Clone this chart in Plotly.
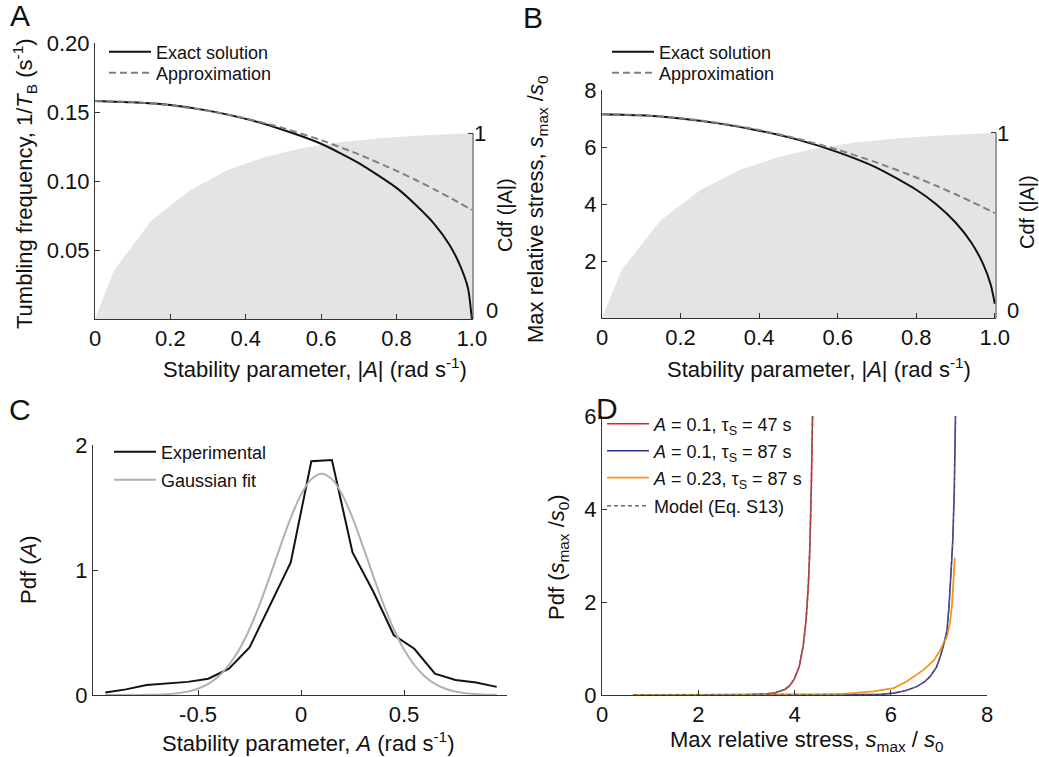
import plotly.graph_objects as go

W, H = 1039, 757
def px(x):
    return x / W
def py(y):
    return 1 - y / H

FONT = "Liberation Sans, Arial, sans-serif"

# ---------------- data ----------------
# Panels A and B : stability parameter |A|
abs_A = [0, 0.1, 0.2, 0.3, 0.4, 0.5, 0.6, 0.7, 0.8, 0.85, 0.9, 0.94, 0.97, 0.99, 1.0]
tumble_exact = [0.158, 0.157, 0.155, 0.151, 0.145, 0.137, 0.127, 0.113, 0.095, 0.083, 0.069, 0.054, 0.038, 0.022, 0.0]
tumble_approx = [0.158, 0.1572, 0.1548, 0.1509, 0.1454, 0.1383, 0.1296, 0.1193, 0.1074, 0.1009, 0.094, 0.0882, 0.0837, 0.0806, 0.079]
stress_exact = [7.15, 7.11, 7.0, 6.82, 6.57, 6.25, 5.82, 5.27, 4.5, 4.0, 3.35, 2.65, 1.9, 1.15, 0.5]
stress_approx = [7.15, 7.115, 7.011, 6.838, 6.595, 6.283, 5.902, 5.451, 4.931, 4.644, 4.341, 4.086, 3.887, 3.751, 3.683]

cdf_x = [0, 0.05, 0.15, 0.25, 0.35, 0.45, 0.55, 0.65, 0.75, 0.85, 0.95, 1.0]
cdf_y = [0, 0.26, 0.53, 0.69, 0.80, 0.87, 0.92, 0.95, 0.97, 0.985, 0.995, 1.0]

# Panel C : pdf of A
pdfA_x = [-0.95, -0.85, -0.75, -0.65, -0.55, -0.45, -0.35, -0.25, -0.15, -0.05,
          0.05, 0.15, 0.25, 0.35, 0.45, 0.55, 0.65, 0.75, 0.85, 0.95]
pdfA_exp = [0.02, 0.045, 0.08, 0.095, 0.105, 0.13, 0.21, 0.38, 0.72, 1.06,
            1.87, 1.88, 1.14, 0.83, 0.48, 0.37, 0.17, 0.12, 0.10, 0.065]
gauss_x = [-0.95, -0.9, -0.85, -0.8, -0.75, -0.7, -0.65, -0.6, -0.55, -0.5, -0.45, -0.4,
           -0.35, -0.3, -0.25, -0.2, -0.15, -0.1, -0.05, 0.0, 0.05, 0.1, 0.15, 0.2,
           0.25, 0.3, 0.35, 0.4, 0.45, 0.5, 0.55, 0.6, 0.65, 0.7, 0.75, 0.8, 0.85, 0.9, 0.95]
gauss_y = [0.0, 0.0, 0.0002, 0.0005, 0.0013, 0.003, 0.007, 0.014, 0.027, 0.051, 0.089, 0.150,
           0.240, 0.364, 0.528, 0.728, 0.955, 1.192, 1.417, 1.603, 1.727, 1.77, 1.727, 1.603,
           1.417, 1.192, 0.955, 0.728, 0.528, 0.364, 0.240, 0.150, 0.089, 0.051, 0.027, 0.014,
           0.007, 0.003, 0.0013]

# Panel D : pdf of max relative stress
red_x = [0.65, 1.5, 2.5, 3.0, 3.4, 3.6, 3.8, 3.9, 4.0, 4.1, 4.18, 4.24, 4.29, 4.32, 4.35, 4.375]
red_y = [0, 0, 0, 0.005, 0.02, 0.05, 0.12, 0.2, 0.35, 0.62, 1.05, 1.6, 2.4, 3.2, 4.5, 6.0]
blue_x = [0.65, 2, 4, 5, 5.5, 5.8, 6.06, 6.3, 6.54, 6.7, 6.82, 6.95, 7.03, 7.1, 7.17, 7.21, 7.25, 7.29, 7.32, 7.345]
blue_y = [0, 0, 0, 0, 0.003, 0.015, 0.04, 0.09, 0.18, 0.28, 0.40, 0.6, 0.83, 1.08, 1.40, 1.9, 2.6, 3.35, 4.4, 6.0]
orange_x = [0.65, 2, 3, 4, 4.5, 4.95, 5.3, 5.64, 6.06, 6.33, 6.68, 6.9, 7.03, 7.17, 7.23, 7.27, 7.3, 7.33]
orange_y = [0, 0, 0, 0.002, 0.008, 0.02, 0.05, 0.08, 0.15, 0.29, 0.54, 0.75, 0.97, 1.26, 1.55, 1.91, 2.4, 2.95]

absA_ticks = [0, 0.2, 0.4, 0.6, 0.8, 1.0]
absA_labels = ["0", "0.2", "0.4", "0.6", "0.8", "1.0"]

# ---------------- styles ----------------
BLACK = "#111111"
DASHGRAY = "#808080"
FILLGRAY = "#e3e4e4"
AXCOL = "#333333"

fig = go.Figure()

# Panel A
fig.add_trace(go.Scatter(x=cdf_x, y=cdf_y, xaxis="x", yaxis="y", mode="lines", fill="tozeroy",
                         fillcolor=FILLGRAY, line=dict(width=0, color=FILLGRAY), showlegend=False,
                         hoverinfo="skip"))
fig.add_trace(go.Scatter(x=abs_A, y=tumble_exact, xaxis="x", yaxis="y2", mode="lines",
                         line=dict(color=BLACK, width=2, shape="spline", smoothing=0.6),
                         name="Exact solution", legend="legend"))
fig.add_trace(go.Scatter(x=abs_A, y=tumble_approx, xaxis="x", yaxis="y2", mode="lines",
                         line=dict(color=DASHGRAY, width=2, dash="7px,4px", shape="spline", smoothing=0.6),
                         name="Approximation", legend="legend2"))

# Panel B
fig.add_trace(go.Scatter(x=cdf_x, y=cdf_y, xaxis="x2", yaxis="y3", mode="lines", fill="tozeroy",
                         fillcolor=FILLGRAY, line=dict(width=0, color=FILLGRAY), showlegend=False,
                         hoverinfo="skip"))
fig.add_trace(go.Scatter(x=abs_A, y=stress_exact, xaxis="x2", yaxis="y4", mode="lines",
                         line=dict(color=BLACK, width=2, shape="spline", smoothing=0.6),
                         name="Exact solution", legend="legend3"))
fig.add_trace(go.Scatter(x=abs_A, y=stress_approx, xaxis="x2", yaxis="y4", mode="lines",
                         line=dict(color=DASHGRAY, width=2, dash="7px,4px", shape="spline", smoothing=0.6),
                         name="Approximation", legend="legend4"))

# Panel C
fig.add_trace(go.Scatter(x=pdfA_x, y=pdfA_exp, xaxis="x3", yaxis="y5", mode="lines",
                         line=dict(color=BLACK, width=2), name="Experimental", legend="legend5"))
fig.add_trace(go.Scatter(x=gauss_x, y=gauss_y, xaxis="x3", yaxis="y5", mode="lines",
                         line=dict(color="#b0b0b0", width=2, shape="spline"), name="Gaussian fit",
                         legend="legend6"))

# Panel D
fig.add_trace(go.Scatter(x=red_x, y=red_y, xaxis="x4", yaxis="y6", mode="lines",
                         line=dict(color="#ed1c24", width=1.6),
                         name="<i>A</i> = 0.1, τ<sub>S</sub> = 47 s", legend="legend7"))
fig.add_trace(go.Scatter(x=blue_x, y=blue_y, xaxis="x4", yaxis="y6", mode="lines",
                         line=dict(color="#2e3192", width=1.6),
                         name="<i>A</i> = 0.1, τ<sub>S</sub> = 87 s", legend="legend8"))
fig.add_trace(go.Scatter(x=orange_x, y=orange_y, xaxis="x4", yaxis="y6", mode="lines",
                         line=dict(color="#f7941d", width=1.8),
                         name="<i>A</i> = 0.23, τ<sub>S</sub> = 87 s", legend="legend9"))
fig.add_trace(go.Scatter(x=red_x, y=red_y, xaxis="x4", yaxis="y6", mode="lines",
                         line=dict(color="#6a6a6a", width=1.6, dash="4px,3px"),
                         name="Model (Eq. S13)", legend="legend10", legendgroup="model"))
fig.add_trace(go.Scatter(x=blue_x, y=blue_y, xaxis="x4", yaxis="y6", mode="lines",
                         line=dict(color="#6a6a6a", width=1.0, dash="4px,3px"),
                         name="Model (Eq. S13)", legend="legend10", legendgroup="model", showlegend=False))

tickfont = dict(family=FONT, size=22, color="#111111")
common = dict(showgrid=False, zeroline=False, ticks="inside", ticklen=5, tickcolor=AXCOL,
              tickfont=tickfont, linecolor=AXCOL, linewidth=1)

layout = dict(
    width=W, height=H, autosize=False,
    margin=dict(l=0, r=0, t=0, b=0, autoexpand=False),
    paper_bgcolor="white", plot_bgcolor="rgba(0,0,0,0)",
    font=dict(family=FONT, color="#111111"),
    # Panel A
    xaxis=dict(domain=[px(95), px(473)], range=[0, 1.003], anchor="y", showline=True,
               tickvals=absA_ticks, ticktext=absA_labels, **common),
    yaxis=dict(domain=[py(319), py(43)], range=[0, 1.484], anchor="x", side="right", showline=False,
               tickvals=[0, 1], ticktext=["", "1"], **common),
    yaxis2=dict(overlaying="y", anchor="x", side="left", range=[0, 0.2], showline=True,
                tickvals=[0.05, 0.1, 0.15, 0.2], ticktext=["0.05", "0.10", "0.15", "0.20"], **common),
    # Panel B
    xaxis2=dict(domain=[px(602), px(996)], range=[0, 1.003], anchor="y3", showline=True,
                tickvals=absA_ticks, ticktext=absA_labels, **common),
    yaxis3=dict(domain=[py(318), py(90)], range=[0, 1.232], anchor="x2", side="right", showline=False,
                tickvals=[0, 1], ticktext=["", "1"], **common),
    yaxis4=dict(overlaying="y3", anchor="x2", side="left", range=[0, 8], showline=True,
                tickvals=[2, 4, 6, 8], ticktext=["2", "4", "6", "8"], **common),
    # Panel C
    xaxis3=dict(domain=[px(93), px(507)], range=[-1.01, 1.0], anchor="y5", showline=True,
                tickvals=[-0.5, 0, 0.5, 1.0], ticktext=["-0.5", "0", "0.5", ""], **common),
    yaxis5=dict(domain=[py(695), py(445)], range=[0, 2], anchor="x3", showline=True,
                tickvals=[0, 1, 2], ticktext=["0", "1", "2"], **common),
    # Panel D
    xaxis4=dict(domain=[px(602), px(987)], range=[0, 8], anchor="y6", showline=True,
                tickvals=[0, 2, 4, 6, 8], ticktext=["0", "2", "4", "6", "8"], **common),
    yaxis6=dict(domain=[py(695), py(416)], range=[0, 6], anchor="x4", showline=True,
                tickvals=[0, 2, 4, 6], ticktext=["0", "2", "4", "6"], **common),
)

leg_common = dict(bgcolor="rgba(0,0,0,0)", borderwidth=0, xanchor="left", yanchor="middle",
                  font=dict(family=FONT, size=18, color="#111111"), itemwidth=42)
legend_pos = {
    "legend": (104, 52), "legend2": (104, 73),        # A
    "legend3": (607, 52), "legend4": (607, 73),       # B
    "legend5": (109, 452), "legend6": (109, 480),     # C
    "legend7": (602, 424), "legend8": (602, 451),     # D
    "legend9": (602, 478), "legend10": (602, 506),
}
for name, (lx, ly) in legend_pos.items():
    layout[name] = dict(x=px(lx), y=py(ly), **leg_common)

fig.update_layout(**layout)

# right spines only up to Cdf = 1
fig.add_shape(type="line", xref="x domain", x0=1, x1=1, yref="y", y0=0, y1=1,
              line=dict(color=AXCOL, width=1))
fig.add_shape(type="line", xref="x2 domain", x0=1, x1=1, yref="y3", y0=0, y1=1,
              line=dict(color="#777777", width=1.5))

def ann(text, x, y, size=22, angle=0):
    fig.add_annotation(text=text, x=px(x), y=py(y), xref="paper", yref="paper",
                       xanchor="center", yanchor="middle", showarrow=False, textangle=angle,
                       font=dict(family=FONT, size=size, color="#111111"))

# panel letters
ann("A", 20, 16, 30)
ann("B", 533, 17, 30)
ann("C", 20, 410, 30)
ann("D", 607, 408, 30)

# Cdf zero labels (raised above the x axis as in the original)
ann("0", 492, 310)
ann("0", 1013, 310)

# axis titles
ann("Stability parameter, |<i>A</i>| (rad s<sup>-1</sup>)", 315, 368)
ann("Tumbling frequency, 1/<i>T</i><sub>B</sub> (s<sup>-1</sup>)", 24, 184, angle=-90)
ann("Cdf (|A|)", 505, 215, 20, angle=-90)
ann("Stability parameter, |<i>A</i>| (rad s<sup>-1</sup>)", 819, 368)
ann("Max relative stress, <i>s</i><sub>max</sub> /<i>s</i><sub>0</sub>", 537, 210, angle=-90)
ann("Cdf (|A|)", 1027, 212, 20, angle=-90)
ann("Pdf (<i>A</i>)", 28, 570, angle=-90)
ann("Stability parameter, <i>A</i> (rad s<sup>-1</sup>)", 308, 742)
ann("Pdf (<i>s</i><sub>max</sub> /<i>s</i><sub>0</sub>)", 558, 557, angle=-90)
ann("Max relative stress, <i>s</i><sub>max</sub> / <i>s</i><sub>0</sub>", 807, 741)

fig.write_html("out.html", config={"displayModeBar": False},
               post_script="document.body.style.margin='0';document.body.style.overflow='hidden';")
